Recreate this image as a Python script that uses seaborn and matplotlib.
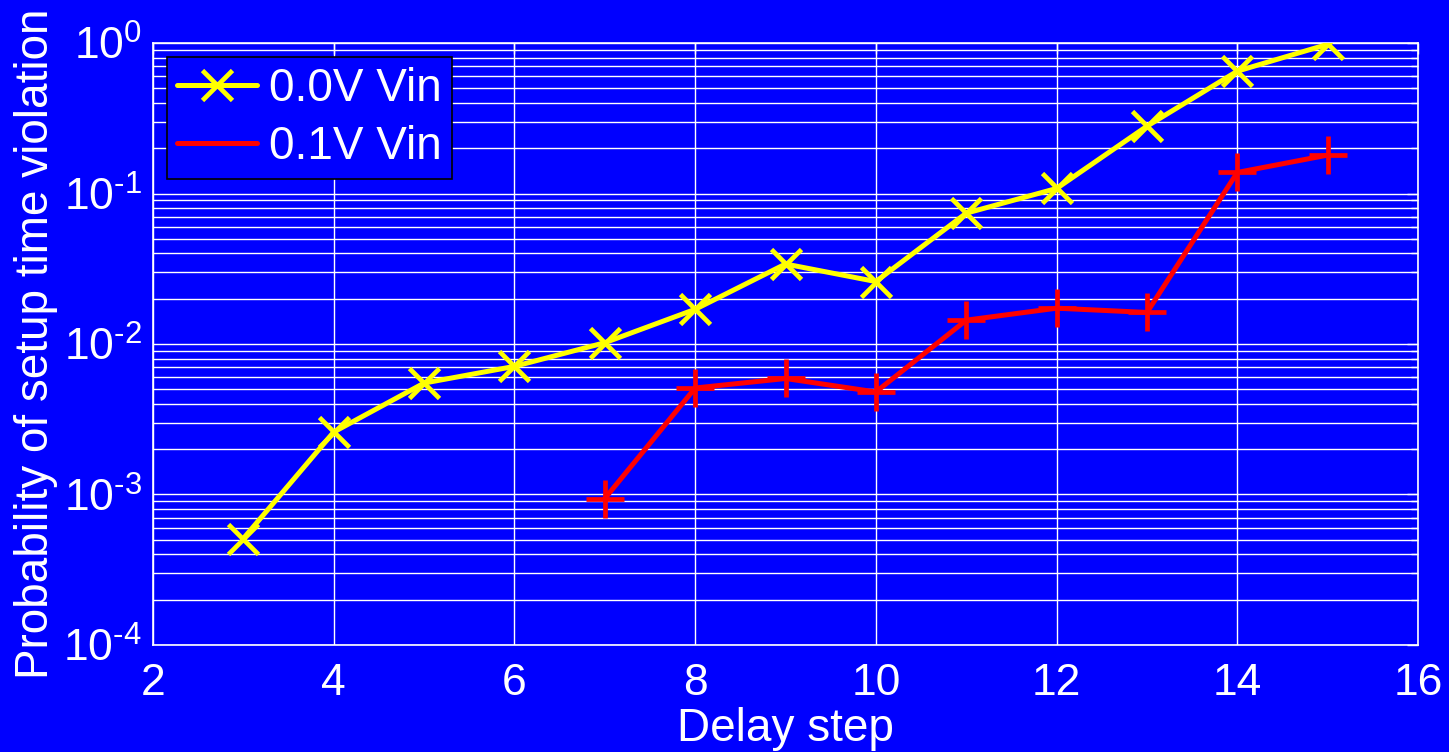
import matplotlib
matplotlib.use('Agg')
import matplotlib.pyplot as plt
import seaborn as sns
import pandas as pd
from matplotlib.lines import Line2D
from matplotlib.ticker import FixedLocator, FixedFormatter, LogLocator, NullFormatter

# values
steps_0v = [3, 4, 5, 6, 7, 8, 9, 10, 11, 12, 13, 14, 15]
prob_0v = [5.1e-4, 2.6e-3, 5.5e-3, 7.1e-3, 1.02e-2, 1.7e-2, 3.4e-2, 2.6e-2,
           7.4e-2, 0.108, 0.28, 0.65, 0.98]
steps_01v = [7, 8, 9, 10, 11, 12, 13, 14, 15]
prob_01v = [9.4e-4, 5.1e-3, 5.9e-3, 4.8e-3, 1.44e-2, 1.73e-2, 1.62e-2, 0.138, 0.18]
labels = ['0.0V Vin', '0.1V Vin']
y_ticks = [1e-4, 1e-3, 1e-2, 1e-1, 1e0]
y_ticklabels = [r'$10^{\text{-4}}$', r'$10^{\text{-3}}$', r'$10^{\text{-2}}$',
                r'$10^{\text{-1}}$', r'$10^{0}$']

sns.set_style('white')
plt.rcParams['font.family'] = ['Liberation Sans', 'DejaVu Sans']
plt.rcParams['mathtext.fontset'] = 'custom'
plt.rcParams['mathtext.rm'] = 'Liberation Sans'
plt.rcParams['mathtext.it'] = 'Liberation Sans'
plt.rcParams['mathtext.default'] = 'regular'

blue = '#0000FF'
yellow = '#FFFF00'
red = '#FF0000'
fs_tick = 32
fs = 33

df0 = pd.DataFrame({'step': steps_0v, 'prob': prob_0v})
df1 = pd.DataFrame({'step': steps_01v, 'prob': prob_01v})

fig = plt.figure(figsize=(14.49, 7.52), dpi=100, facecolor=blue)
ax = fig.add_axes([0.1056, 0.1423, 0.9786 - 0.1056, 0.9428 - 0.1423])
ax.set_facecolor(blue)

sns.lineplot(data=df0, x='step', y='prob', color=yellow, lw=3.6,
             marker='x', markersize=22, markeredgewidth=3.4,
             markeredgecolor=yellow, ax=ax, zorder=5)
sns.lineplot(data=df1, x='step', y='prob', color=red, lw=3.6,
             marker='+', markersize=27, markeredgewidth=3.4,
             markeredgecolor=red, ax=ax, zorder=5)

ax.set_yscale('log')
ax.set_xlim(2, 16)
ax.set_ylim(1e-4, 1e0)
ax.set_xticks(range(2, 17, 2))
ax.yaxis.set_major_locator(FixedLocator(y_ticks))
ax.yaxis.set_major_formatter(FixedFormatter(y_ticklabels))
ax.yaxis.set_minor_locator(LogLocator(base=10, subs=range(2, 10), numticks=20))
ax.yaxis.set_minor_formatter(NullFormatter())

ax.grid(True, which='major', axis='both', color='white', lw=1.0)
ax.grid(True, which='minor', axis='y', color='white', lw=1.0)
ax.set_axisbelow(True)

for s in ax.spines.values():
    s.set_color('white')
    s.set_linewidth(1.2)

ax.tick_params(which='both', direction='in', colors='white', top=True, right=True,
               labelsize=fs_tick, labelcolor='white')
ax.tick_params(which='major', length=8, width=1)
ax.tick_params(which='minor', length=5, width=1)
ax.tick_params(axis='x', pad=13)
ax.tick_params(axis='y', pad=8)

ax.set_xlabel('Delay step', fontsize=fs, color='white', labelpad=2)
ax.set_ylabel('Probability of setup time violation', fontsize=fs, color='white', labelpad=4)

handles = [Line2D([], [], color=yellow, lw=3.6, marker='x', markersize=22,
                  markeredgewidth=3.4, markeredgecolor=yellow),
           Line2D([], [], color=red, lw=3.6)]
leg = ax.legend(handles, labels, loc='upper left', bbox_to_anchor=(0.011, 0.977),
                borderaxespad=0, fontsize=fs, frameon=True, fancybox=False,
                handlelength=1.75, handletextpad=0.25, labelspacing=0.3,
                borderpad=0.22, facecolor=blue, edgecolor='black', framealpha=1)
leg.get_frame().set_linewidth(1.2)
for t in leg.get_texts():
    t.set_color('white')

fig.savefig('out.png', dpi=100, facecolor=blue)
